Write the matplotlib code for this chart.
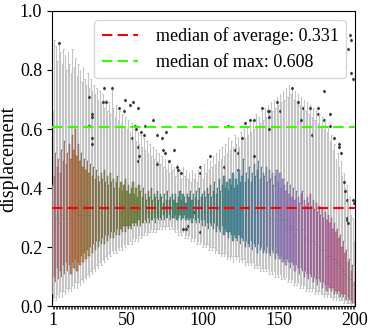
import numpy as np
import matplotlib
matplotlib.use("Agg")
import matplotlib.pyplot as plt
import seaborn as sns

plt.rcParams['font.family'] = ['Liberation Serif', 'DejaVu Serif']
plt.rcParams['font.size'] = 13

# per-step box statistics (step 1..200)
q3 = [0.41, 0.44, 0.52, 0.47, 0.50, 0.45, 0.53, 0.49, 0.56, 0.48,
      0.52, 0.55, 0.50, 0.58, 0.53, 0.60, 0.51, 0.55, 0.49, 0.52,
      0.47, 0.50, 0.46, 0.49, 0.45, 0.48, 0.44, 0.47, 0.43, 0.46,
      0.44, 0.42, 0.45, 0.43, 0.46, 0.42, 0.44, 0.41, 0.45, 0.42,
      0.43, 0.40, 0.42, 0.44, 0.40, 0.42, 0.39, 0.41, 0.43, 0.39,
      0.41, 0.38, 0.40, 0.42, 0.38, 0.40, 0.37, 0.41, 0.39, 0.37,
      0.40, 0.38, 0.36, 0.39, 0.37, 0.40, 0.36, 0.38, 0.37, 0.39,
      0.36, 0.38, 0.37, 0.35, 0.38, 0.36, 0.39, 0.36, 0.37, 0.38,
      0.36, 0.38, 0.35, 0.37, 0.39, 0.36, 0.38, 0.37, 0.35, 0.38,
      0.37, 0.39, 0.36, 0.38, 0.37, 0.39, 0.36, 0.40, 0.37, 0.38,
      0.39, 0.37, 0.40, 0.38, 0.41, 0.37, 0.39, 0.42, 0.38, 0.40,
      0.43, 0.39, 0.41, 0.44, 0.40, 0.42, 0.39, 0.43, 0.41, 0.45,
      0.40, 0.43, 0.41, 0.46, 0.42, 0.44, 0.50, 0.42, 0.45, 0.43,
      0.47, 0.42, 0.45, 0.48, 0.44, 0.46, 0.49, 0.43, 0.47, 0.45,
      0.44, 0.47, 0.42, 0.46, 0.43, 0.45, 0.41, 0.44, 0.46, 0.42,
      0.45, 0.40, 0.43, 0.41, 0.39, 0.42, 0.38, 0.41, 0.37, 0.40,
      0.36, 0.39, 0.37, 0.35, 0.38, 0.39, 0.36, 0.34, 0.37, 0.35,
      0.38, 0.34, 0.36, 0.33, 0.35, 0.32, 0.34, 0.31, 0.33, 0.30,
      0.32, 0.29, 0.31, 0.28, 0.30, 0.26, 0.28, 0.25, 0.26, 0.23,
      0.24, 0.20, 0.22, 0.18, 0.19, 0.15, 0.16, 0.12, 0.14, 0.08]

q1 = [0.04, 0.10, 0.08, 0.13, 0.09, 0.12, 0.10, 0.14, 0.11, 0.15,
      0.12, 0.14, 0.11, 0.15, 0.13, 0.16, 0.12, 0.15, 0.14, 0.17,
      0.15, 0.18, 0.16, 0.19, 0.17, 0.20, 0.18, 0.21, 0.19, 0.22,
      0.20, 0.22, 0.21, 0.23, 0.21, 0.24, 0.22, 0.24, 0.23, 0.25,
      0.23, 0.25, 0.24, 0.26, 0.24, 0.26, 0.25, 0.27, 0.25, 0.27,
      0.26, 0.27, 0.26, 0.28, 0.27, 0.28, 0.27, 0.29, 0.27, 0.28,
      0.28, 0.29, 0.28, 0.30, 0.28, 0.29, 0.29, 0.30, 0.28, 0.30,
      0.29, 0.30, 0.29, 0.31, 0.29, 0.30, 0.30, 0.31, 0.29, 0.30,
      0.30, 0.31, 0.29, 0.30, 0.31, 0.29, 0.30, 0.31, 0.29, 0.30,
      0.29, 0.30, 0.28, 0.30, 0.29, 0.28, 0.30, 0.28, 0.29, 0.27,
      0.29, 0.27, 0.28, 0.26, 0.28, 0.27, 0.26, 0.28, 0.25, 0.27,
      0.26, 0.25, 0.27, 0.24, 0.26, 0.25, 0.23, 0.25, 0.24, 0.22,
      0.24, 0.23, 0.22, 0.24, 0.21, 0.23, 0.22, 0.20, 0.22, 0.21,
      0.20, 0.22, 0.19, 0.21, 0.20, 0.18, 0.21, 0.19, 0.20, 0.18,
      0.19, 0.18, 0.20, 0.18, 0.17, 0.19, 0.18, 0.16, 0.18, 0.17,
      0.16, 0.17, 0.15, 0.16, 0.14, 0.16, 0.15, 0.13, 0.15, 0.14,
      0.12, 0.14, 0.13, 0.11, 0.13, 0.12, 0.10, 0.12, 0.11, 0.09,
      0.11, 0.10, 0.08, 0.10, 0.09, 0.07, 0.09, 0.08, 0.06, 0.08,
      0.07, 0.05, 0.07, 0.06, 0.05, 0.06, 0.04, 0.05, 0.04, 0.05,
      0.03, 0.04, 0.03, 0.04, 0.02, 0.03, 0.02, 0.02, 0.01, 0.01]

med = [0.20, 0.26, 0.30, 0.29, 0.28, 0.27, 0.31, 0.30, 0.33, 0.30,
       0.32, 0.34, 0.30, 0.36, 0.33, 0.37, 0.31, 0.35, 0.31, 0.34,
       0.31, 0.34, 0.31, 0.34, 0.31, 0.34, 0.31, 0.34, 0.31, 0.34,
       0.32, 0.32, 0.33, 0.33, 0.33, 0.33, 0.33, 0.32, 0.34, 0.33,
       0.33, 0.32, 0.33, 0.35, 0.32, 0.34, 0.32, 0.34, 0.34, 0.33,
       0.33, 0.33, 0.33, 0.35, 0.32, 0.34, 0.32, 0.35, 0.33, 0.32,
       0.34, 0.33, 0.32, 0.34, 0.32, 0.34, 0.32, 0.34, 0.32, 0.34,
       0.32, 0.34, 0.33, 0.33, 0.33, 0.33, 0.34, 0.33, 0.33, 0.34,
       0.33, 0.34, 0.32, 0.33, 0.35, 0.32, 0.34, 0.34, 0.32, 0.34,
       0.33, 0.34, 0.32, 0.34, 0.33, 0.33, 0.33, 0.34, 0.33, 0.32,
       0.34, 0.32, 0.34, 0.32, 0.34, 0.32, 0.32, 0.35, 0.31, 0.33,
       0.34, 0.32, 0.34, 0.34, 0.33, 0.33, 0.31, 0.34, 0.32, 0.34,
       0.32, 0.33, 0.31, 0.35, 0.31, 0.33, 0.36, 0.31, 0.33, 0.32,
       0.34, 0.32, 0.32, 0.35, 0.32, 0.32, 0.35, 0.31, 0.33, 0.31,
       0.32, 0.33, 0.31, 0.32, 0.30, 0.32, 0.29, 0.30, 0.32, 0.29,
       0.31, 0.28, 0.29, 0.29, 0.27, 0.29, 0.27, 0.27, 0.26, 0.27,
       0.24, 0.26, 0.25, 0.23, 0.25, 0.26, 0.23, 0.23, 0.24, 0.22,
       0.24, 0.22, 0.22, 0.21, 0.22, 0.20, 0.21, 0.19, 0.20, 0.19,
       0.19, 0.17, 0.19, 0.17, 0.17, 0.16, 0.16, 0.15, 0.15, 0.14,
       0.13, 0.12, 0.12, 0.11, 0.10, 0.09, 0.09, 0.07, 0.07, 0.04]

whislo = [0.02, 0.03, 0.02, 0.04, 0.03, 0.05, 0.03, 0.05, 0.04, 0.06,
          0.05, 0.06, 0.05, 0.07, 0.06, 0.08, 0.06, 0.08, 0.07, 0.09,
          0.08, 0.10, 0.09, 0.11, 0.10, 0.12, 0.11, 0.13, 0.12, 0.14,
          0.13, 0.15, 0.14, 0.16, 0.15, 0.17, 0.16, 0.18, 0.17, 0.19,
          0.18, 0.19, 0.18, 0.20, 0.19, 0.20, 0.19, 0.21, 0.20, 0.21,
          0.21, 0.22, 0.21, 0.23, 0.22, 0.23, 0.22, 0.24, 0.23, 0.24,
          0.24, 0.25, 0.24, 0.25, 0.25, 0.26, 0.25, 0.26, 0.25, 0.26,
          0.26, 0.27, 0.26, 0.27, 0.26, 0.27, 0.27, 0.26, 0.27, 0.26,
          0.26, 0.25, 0.26, 0.24, 0.25, 0.24, 0.25, 0.23, 0.24, 0.23,
          0.24, 0.22, 0.23, 0.22, 0.23, 0.21, 0.22, 0.21, 0.22, 0.20,
          0.21, 0.20, 0.21, 0.19, 0.20, 0.19, 0.20, 0.18, 0.19, 0.18,
          0.18, 0.17, 0.18, 0.17, 0.18, 0.16, 0.17, 0.16, 0.17, 0.15,
          0.17, 0.16, 0.17, 0.15, 0.16, 0.15, 0.16, 0.14, 0.15, 0.14,
          0.15, 0.14, 0.15, 0.13, 0.14, 0.13, 0.14, 0.12, 0.13, 0.12,
          0.13, 0.12, 0.13, 0.11, 0.12, 0.11, 0.12, 0.10, 0.11, 0.10,
          0.11, 0.09, 0.10, 0.09, 0.10, 0.08, 0.09, 0.08, 0.09, 0.07,
          0.08, 0.07, 0.08, 0.06, 0.07, 0.06, 0.07, 0.05, 0.06, 0.05,
          0.06, 0.05, 0.06, 0.04, 0.05, 0.04, 0.05, 0.04, 0.04, 0.03,
          0.04, 0.03, 0.04, 0.03, 0.03, 0.02, 0.03, 0.02, 0.03, 0.02,
          0.02, 0.02, 0.01, 0.02, 0.01, 0.01, 0.01, 0.00, 0.01, 0.00]

whishi = [0.66, 0.90, 0.88, 0.83, 0.89, 0.86, 0.82, 0.87, 0.85, 0.80,
          0.86, 0.82, 0.79, 0.87, 0.81, 0.84, 0.78, 0.82, 0.80, 0.76,
          0.81, 0.77, 0.75, 0.79, 0.74, 0.77, 0.73, 0.75, 0.72, 0.74,
          0.70, 0.73, 0.69, 0.72, 0.67, 0.70, 0.66, 0.69, 0.65, 0.74,
          0.67, 0.64, 0.68, 0.63, 0.66, 0.62, 0.65, 0.61, 0.64, 0.60,
          0.63, 0.59, 0.62, 0.57, 0.60, 0.56, 0.59, 0.55, 0.58, 0.54,
          0.57, 0.53, 0.56, 0.52, 0.55, 0.51, 0.54, 0.50, 0.53, 0.49,
          0.52, 0.48, 0.51, 0.47, 0.50, 0.46, 0.49, 0.45, 0.48, 0.46,
          0.47, 0.44, 0.48, 0.45, 0.46, 0.43, 0.47, 0.44, 0.46, 0.43,
          0.45, 0.42, 0.46, 0.43, 0.45, 0.42, 0.46, 0.44, 0.47, 0.43,
          0.48, 0.45, 0.50, 0.46, 0.49, 0.47, 0.51, 0.48, 0.52, 0.49,
          0.53, 0.50, 0.54, 0.51, 0.55, 0.52, 0.57, 0.53, 0.56, 0.54,
          0.58, 0.55, 0.57, 0.54, 0.59, 0.56, 0.60, 0.57, 0.61, 0.58,
          0.62, 0.59, 0.63, 0.60, 0.65, 0.61, 0.64, 0.62, 0.66, 0.63,
          0.67, 0.64, 0.68, 0.65, 0.69, 0.66, 0.70, 0.67, 0.71, 0.68,
          0.72, 0.69, 0.73, 0.70, 0.74, 0.71, 0.75, 0.72, 0.74, 0.70,
          0.73, 0.69, 0.72, 0.68, 0.71, 0.67, 0.70, 0.66, 0.69, 0.65,
          0.68, 0.64, 0.67, 0.63, 0.66, 0.62, 0.65, 0.61, 0.64, 0.60,
          0.63, 0.59, 0.61, 0.56, 0.58, 0.53, 0.55, 0.50, 0.52, 0.47,
          0.49, 0.44, 0.45, 0.40, 0.41, 0.36, 0.37, 0.31, 0.30, 0.22]

# outliers: step and value
flier_step = [5, 25, 27, 27, 25, 27, 27, 35, 34, 36,
              40, 49, 52, 54, 45, 48, 57, 55, 56, 59, 61, 53, 57, 58, 57,
              62, 67, 70, 73, 70, 74, 75, 76, 78, 81, 83, 84, 86, 87, 89,
              90, 98, 94, 98, 98, 105, 114, 117, 121, 123, 123, 126, 128, 131, 134,
              134, 139, 143, 144, 144, 144, 149, 151, 159, 163, 166, 165, 171, 176, 176,
              172, 180, 180, 184, 184, 187, 190, 190, 191, 193, 194, 195, 196, 195, 196,
              195, 199, 197, 198, 198, 199, 200]
flier_val = [0.89, 0.71, 0.65, 0.64, 0.61, 0.57, 0.55, 0.74, 0.69, 0.69,
             0.74, 0.70, 0.68, 0.69, 0.67, 0.66, 0.67, 0.61, 0.60, 0.59, 0.58, 0.57, 0.54, 0.51, 0.49,
             0.61, 0.63, 0.58, 0.57, 0.48, 0.53, 0.52, 0.59, 0.49, 0.53, 0.47, 0.46, 0.45, 0.26, 0.26,
             0.27, 0.25, 0.32, 0.47, 0.45, 0.51, 0.47, 0.61, 0.53, 0.52, 0.46, 0.57, 0.62, 0.63, 0.63,
             0.51, 0.67, 0.66, 0.64, 0.60, 0.66, 0.69, 0.66, 0.74, 0.69, 0.67, 0.63, 0.67, 0.67, 0.65,
             0.58, 0.73, 0.63, 0.65, 0.61, 0.57, 0.55, 0.54, 0.52, 0.42, 0.39, 0.29, 0.28, 0.36, 0.87,
             0.30, 0.36, 0.92, 0.90, 0.79, 0.77, 0.35]

avg_median = 0.331
max_median = 0.608

steps = np.arange(1, 201)
xtick_labels = {1: '1', 50: '50', 100: '100', 150: '150', 200: '200'}

stats = []
for i, s in enumerate(steps):
    fl = [v for p, v in zip(flier_step, flier_val) if p == s]
    stats.append(dict(med=med[i], q1=q1[i], q3=q3[i],
                      whislo=whislo[i], whishi=whishi[i], fliers=fl))

colors = [sns.desaturate(c, 0.75) for c in sns.husl_palette(len(steps))]

fig, ax = plt.subplots(figsize=(3.74, 3.33), dpi=100)
fig.subplots_adjust(left=0.139, right=0.949, bottom=0.081, top=0.967)

bp = ax.bxp(stats, positions=steps, widths=0.8, patch_artist=True,
            boxprops=dict(linewidth=0.3, edgecolor='#5a5a5a'),
            whiskerprops=dict(color='#c4c4c4', linewidth=0.8),
            capprops=dict(color='#c4c4c4', linewidth=0.6),
            medianprops=dict(color='#6a6a6a', linewidth=0.4),
            flierprops=dict(marker='d', markersize=1.3, markerfacecolor='#3a3a3a',
                            markeredgecolor='#3a3a3a'))
for patch, c in zip(bp['boxes'], colors):
    patch.set_facecolor(c)
    patch.set_zorder(3)
for m in bp['medians']:
    m.set_zorder(4)

ax.axhline(avg_median, color='red', linestyle='--', dashes=(5, 2.5), linewidth=1.5,
           label='median of average: %.3f' % avg_median, zorder=5)
ax.axhline(max_median, color='#33ff00', linestyle='--', dashes=(5, 2.5), linewidth=1.5,
           label='median of max: %.3f' % max_median, zorder=5)

ax.set_xlim(0.5, 200.5)
ax.set_ylim(0, 1.0)
ax.set_xticks(steps)
ax.set_xticklabels([xtick_labels.get(s, '') for s in steps])
ax.tick_params(axis='x', length=2, width=0.5, pad=2)
ax.set_yticks([0.0, 0.2, 0.4, 0.6, 0.8, 1.0])
ax.set_ylabel('displacement', fontsize=14.5, labelpad=1)
ax.legend(loc='upper right', fontsize=13, framealpha=0.8, handletextpad=1.0)

fig.savefig('out.png', dpi=100)
